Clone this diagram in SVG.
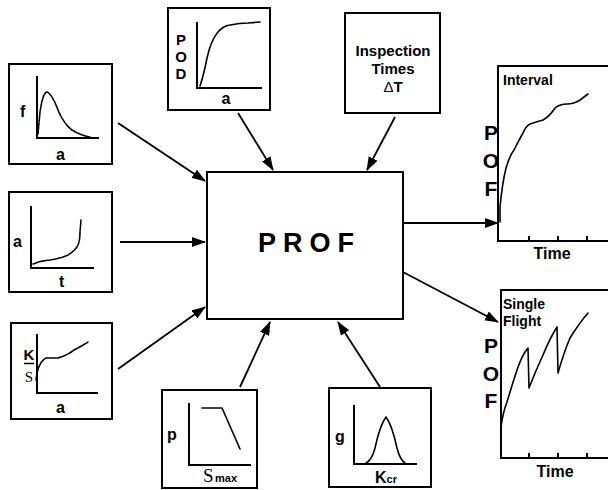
<svg xmlns="http://www.w3.org/2000/svg" width="608" height="490" viewBox="0 0 608 490">
<style>
.box{fill:#fff;stroke:#000;stroke-width:2}
.ax{fill:none;stroke:#000;stroke-width:2}
.cv{fill:none;stroke:#000;stroke-width:1.6;stroke-linejoin:round;stroke-linecap:round}
.conn{stroke:#000;stroke-width:1.8;fill:none}
text{font-family:"Liberation Sans",Arial,sans-serif;font-weight:bold;fill:#000}
.lb{font-size:16px}
.pof{font-size:21px}
.ser{font-family:"Liberation Serif","Times New Roman",serif;font-weight:normal}
</style>
<defs>
<marker id="ah" markerUnits="userSpaceOnUse" markerWidth="14" markerHeight="10" refX="13" refY="5" orient="auto">
<path d="M0,0 L14,5 L0,10 Z" fill="#000"/>
</marker>
</defs>
<rect width="608" height="490" fill="#fff"/>

<g id="connectors">
<line class="conn" x1="118" y1="123" x2="205" y2="181" marker-end="url(#ah)"/>
<line class="conn" x1="120" y1="242" x2="205" y2="242" marker-end="url(#ah)"/>
<line class="conn" x1="118" y1="369" x2="205" y2="307" marker-end="url(#ah)"/>
<line class="conn" x1="238" y1="113" x2="273" y2="170" marker-end="url(#ah)"/>
<line class="conn" x1="395" y1="117" x2="367" y2="170" marker-end="url(#ah)"/>
<line class="conn" x1="240" y1="387" x2="270" y2="322" marker-end="url(#ah)"/>
<line class="conn" x1="380" y1="387" x2="338" y2="322" marker-end="url(#ah)"/>
<line class="conn" x1="403" y1="223" x2="498" y2="223" marker-end="url(#ah)"/>
<line class="conn" x1="403" y1="272" x2="498" y2="322" marker-end="url(#ah)"/>
</g>

<g id="prof">
<rect class="box" x="207" y="172" width="196" height="147" stroke-width="2.4"/>
<text x="258" y="252" font-size="27" letter-spacing="7">PROF</text>
</g>

<g id="f-a">
<rect class="box" x="9" y="64" width="103" height="100"/>
<path class="ax" d="M37,76 V138 H99"/>
<path class="cv" stroke-dasharray="3,1" d="M38,134 L40,112 Q43,92 47,92 Q52,94 58,110 Q64,124 72,130 Q80,135 90,137"/>
<text class="lb" x="20" y="117">f</text>
<text class="lb" x="56" y="160">a</text>
</g>

<g id="a-t">
<rect class="box" x="9" y="192" width="103" height="100"/>
<path class="ax" d="M31,206 V268 H94"/>
<path class="cv" stroke-dasharray="4,1" d="M33,264 Q40,261 50,260 Q62,258 68,255 Q75,251 78,245 Q80,240 80,232 L81,220"/>
<text class="lb" x="13" y="247">a</text>
<text class="lb" x="59" y="287">t</text>
</g>

<g id="k-a">
<rect class="box" x="11" y="323" width="101" height="96"/>
<path class="ax" d="M37,334 V393 H98"/>
<path class="cv" stroke-dasharray="5,1" d="M36,380 Q38,362 46,358 L58,358 Q66,356 74,350 Q82,346 88,342"/>
<text x="29" y="360" font-size="15" text-anchor="middle">K</text>
<line x1="24" y1="363.5" x2="34" y2="363.5" stroke="#000" stroke-width="1.5"/>
<text class="ser" x="29" y="382" font-size="15" text-anchor="middle">S</text>
<text class="lb" x="56" y="413">a</text>
</g>

<g id="pod">
<rect class="box" x="168" y="8" width="102" height="102"/>
<path class="ax" d="M197,22 V88 H262"/>
<path class="cv" d="M200,86 Q204,74 207,58 Q211,40 218,32 Q223,26 230,25 Q240,23 248,23 L260,22"/>
<text x="181" y="45" font-size="15" text-anchor="middle">P</text>
<text x="181" y="62" font-size="15" text-anchor="middle">O</text>
<text x="181" y="79" font-size="15" text-anchor="middle">D</text>
<text class="lb" x="226" y="104" text-anchor="middle">a</text>
</g>

<g id="inspection">
<rect class="box" x="345" y="13" width="95" height="100"/>
<text x="393" y="56" font-size="15" text-anchor="middle">Inspection</text>
<text x="393" y="74" font-size="15" text-anchor="middle">Times</text>
<text x="393" y="92" font-size="15" text-anchor="middle"><tspan font-weight="normal">Δ</tspan>T</text>
</g>

<g id="interval">
<path class="ax" d="M608,66 H498 V241 H608"/>
<path class="ax" d="M529,241 V236 M558,241 V236 M587,241 V236"/>
<path class="cv" d="M500,222 L500,207 Q502,185 506,168 Q510,155 514,150 Q519,140 523,133 Q526,126 530,124 Q536,122 543,120 Q550,116 555,108 Q560,104 567,104 Q574,104 580,100 L588,94"/>
<text x="503" y="85" font-size="14">Interval</text>
<text x="491" y="140" class="pof" text-anchor="middle">P</text>
<text x="491" y="168" class="pof" text-anchor="middle">O</text>
<text x="491" y="196" class="pof" text-anchor="middle">F</text>
<text class="lb" x="552" y="259" text-anchor="middle">Time</text>
</g>

<g id="single-flight">
<path class="ax" d="M608,290 H501 V458 H608"/>
<path class="ax" d="M529,458 V453 M558,458 V453 M587,458 V453"/>
<path class="cv" d="M501,427 Q503,412 507,402 Q512,385 517,370 Q522,355 528,348 L529,388 Q536,370 543,355 Q550,338 557,327 L558,373 Q564,352 570,338 Q580,322 588,313"/>
<text x="503" y="309" font-size="14">Single</text>
<text x="503" y="326" font-size="14">Flight</text>
<text x="491" y="353" class="pof" text-anchor="middle">P</text>
<text x="491" y="381" class="pof" text-anchor="middle">O</text>
<text x="491" y="408" class="pof" text-anchor="middle">F</text>
<text class="lb" x="555" y="477" text-anchor="middle">Time</text>
</g>

<g id="p-smax">
<rect class="box" x="162" y="390" width="95" height="98"/>
<path class="ax" d="M189,403 V465 H251"/>
<path class="cv" d="M202,408 H222 L240,449"/>
<text class="lb" x="172" y="440" text-anchor="middle">p</text>
<text class="ser" x="203" y="482" font-size="19">S</text>
<text x="215" y="482" font-size="11">max</text>
</g>

<g id="g-kcr">
<rect class="box" x="329" y="388" width="102" height="99"/>
<path class="ax" d="M354,405 V464 H417"/>
<path class="cv" d="M366,463 Q372,460 375,448 Q380,425 386,417 Q392,425 397,448 Q400,460 405,463"/>
<text class="lb" x="340" y="442" text-anchor="middle">g</text>
<text x="375" y="483" font-size="16">K<tspan font-size="11">cr</tspan></text>
</g>
</svg>
